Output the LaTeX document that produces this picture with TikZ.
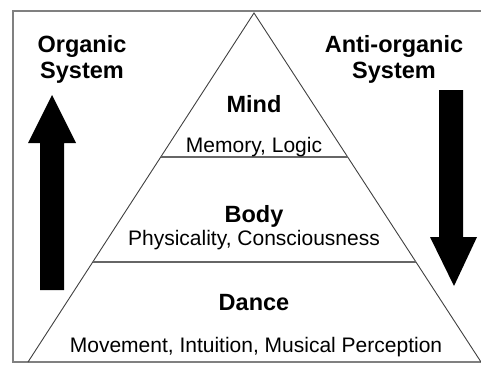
\documentclass[tikz,border=0pt]{standalone}
\usepackage{fontspec}
\setmainfont{Liberation Sans}
\usetikzlibrary{calc,positioning}

\begin{document}
\begin{tikzpicture}[x=1pt,y=-1pt]
  \tikzset{ t/.style={font=\fontsize{23.5}{26}\selectfont\bfseries,anchor=base,inner sep=0pt},
            s/.style={font=\fontsize{21}{24}\selectfont,anchor=base,inner sep=0pt},
            frame/.style={gray,line width=1.6pt},
            level/.style={gray!80!black,line width=1.8pt},
            side/.style={black!75,line width=0.9pt},
  }
  \useasboundingbox (0,0) rectangle (481,364);
  \draw[frame] (484,11) -- (13,11) -- (13,362) -- (484,362);

  \coordinate (A) at (254,13);
  \coordinate (L) at (28,362);
  \coordinate (R) at (481,362);
  \draw[side] (L) -- (A) -- (R);
  \coordinate (ML) at ($(A)!0.4126!(L)$);
  \coordinate (MR) at ($(A)!0.4126!(R)$);
  \coordinate (BL) at ($(A)!0.7135!(L)$);
  \coordinate (BR) at ($(A)!0.7135!(R)$);
  \draw[level] (ML) -- (MR);
  \draw[level] (BL) -- (BR);

  \node[t] (mind) at (254,112) {Mind};
  \node[s] (memory) at (254,152) {Memory, Logic};
  \node[t] (body) at (254,222) {Body};
  \node[s] (phys) at (254,245) {Physicality, Consciousness};
  \node[t] (dance) at (254,310) {Dance};
  \node[s] (move) at (256,352) {Movement, Intuition, Musical Perception};

  \node[t] (org) at (82,52) {Organic};
  \node[t] (orgsys) at (82,78) {System};
  \node[t] (anti) at (394,52) {Anti-organic};
  \node[t] (antisys) at (394,78) {System};

  % arrows
  \fill (40,290) -- (40,143) -- (28,143) -- (52,95) -- (76,143) -- (64,143) -- (64,290) -- cycle;
  \fill (439,90) -- (439,237) -- (430,237) -- (454,286) -- (477,237) -- (463,237) -- (463,90) -- cycle;
\end{tikzpicture}
\end{document}
